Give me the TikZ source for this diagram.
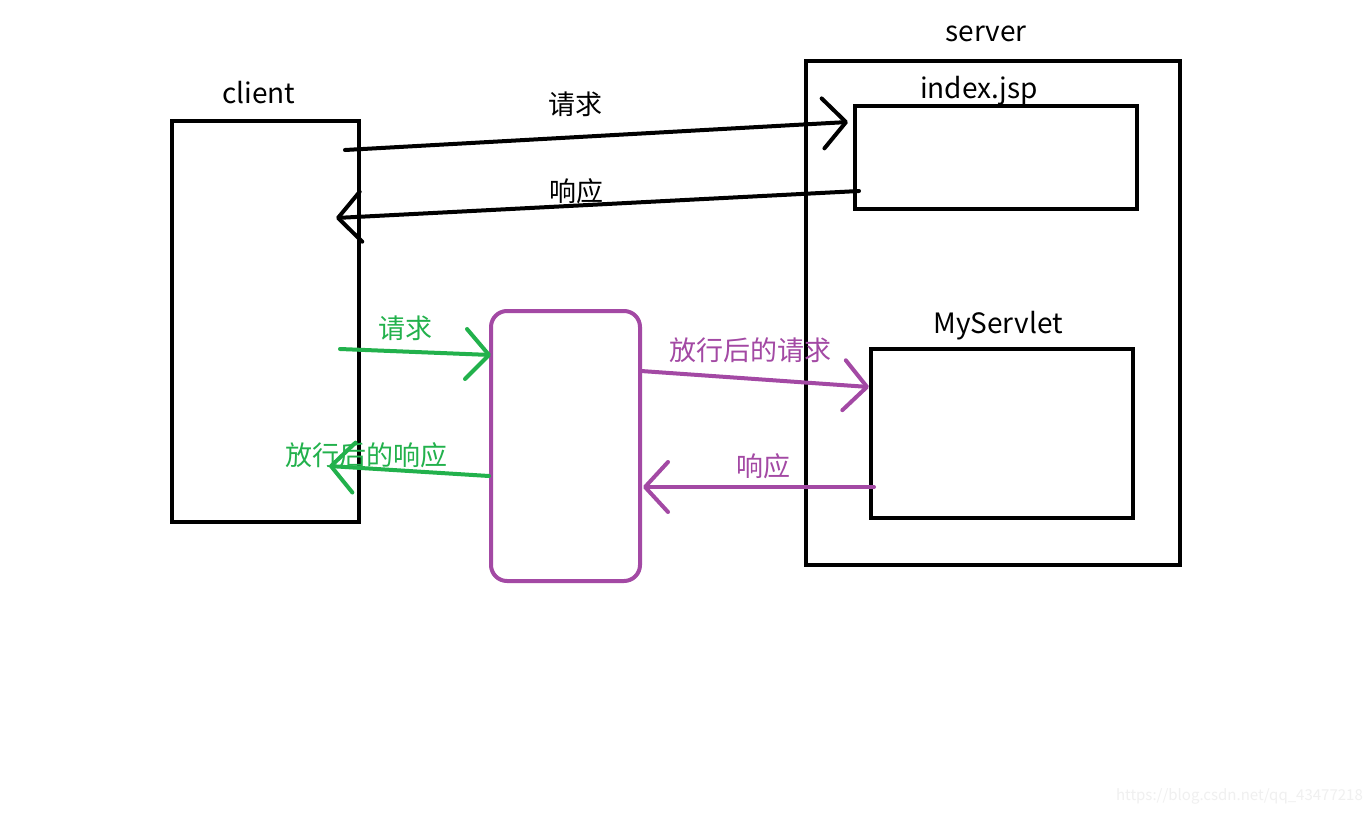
\documentclass[tikz,border=0pt]{standalone}
\usepackage{fontspec}
\setmainfont{Noto Sans CJK SC}
\usetikzlibrary{arrows.meta}
\definecolor{pgreen}{RGB}{34,177,76}
\definecolor{ppurple}{RGB}{163,73,164}
\tikzset{
  box/.style={draw, line width=4pt, inner sep=0pt},
  lbl/.style={inner sep=0pt, font=\fontsize{27}{32}\selectfont},
  ttl/.style={inner sep=0pt, font=\fontsize{28}{33}\selectfont},
  conn/.style={line width=4pt, line cap=round, -{Straight Barb[length=23pt,width=50pt,round]}},
}
\begin{document}
\begin{tikzpicture}[x=1pt,y=-1pt]
\useasboundingbox (0,0) rectangle (1372,814);
\fill[white] (0,0) rectangle (1372,814);
% boxes
\node[box, minimum width=374pt, minimum height=504pt] (server) at (993,313) {};
\node[box, minimum width=282pt, minimum height=103pt] (index) at (996,157.5) {};
\node[box, minimum width=262pt, minimum height=169pt] (servlet) at (1002,433.5) {};
\node[box, minimum width=187pt, minimum height=401pt] (client) at (265.5,321.5) {};
\node[box, draw=ppurple, rounded corners=16pt, minimum width=149pt, minimum height=270pt] (filter) at (565.5,446) {};
% titles
\node[ttl] (tserver) at (986,34) {server};
\node[ttl] (tindex) at (979,91) {index.jsp};
\node[ttl] (tservlet) at (998,326) {MyServlet};
\node[ttl] (tclient) at (259,93) {client};
% endpoints
\coordinate (a1) at (345,150); \coordinate (b1) at (848,122);
\coordinate (a2) at (859,191); \coordinate (b2) at (336,218);
\coordinate (a3) at (340,349); \coordinate (b3) at (491,355);
\coordinate (a4) at (489,476); \coordinate (b4) at (329,466);
\coordinate (a5) at (641,371); \coordinate (b5) at (869,387);
\coordinate (a6) at (874,487); \coordinate (b6) at (643,487);
% connectors
\draw[conn] (a1) -- (b1);
\draw[conn] (a2) -- (b2);
\draw[conn, pgreen] (a3) -- (b3);
\draw[conn, pgreen] (a4) -- (b4);
\draw[conn, ppurple] (a5) -- (b5);
\draw[conn, ppurple] (a6) -- (b6);
% labels
\node[lbl] (l1) at (575,104) {请求};
\node[lbl] (l2) at (576,191) {响应};
\node[lbl, text=pgreen] (l3) at (405,328) {请求};
\node[lbl, text=pgreen] (l4) at (366,455) {放行后的响应};
\node[lbl, text=ppurple] (l5) at (750,350) {放行后的请求};
\node[lbl, text=ppurple] (l6) at (763,466) {响应};
\node[inner sep=0pt, anchor=east, text=black!6, font=\fontsize{15}{18}\selectfont] (wm) at (1363,796) {https://blog.csdn.net/qq\_43477218};
\end{tikzpicture}
\end{document}
